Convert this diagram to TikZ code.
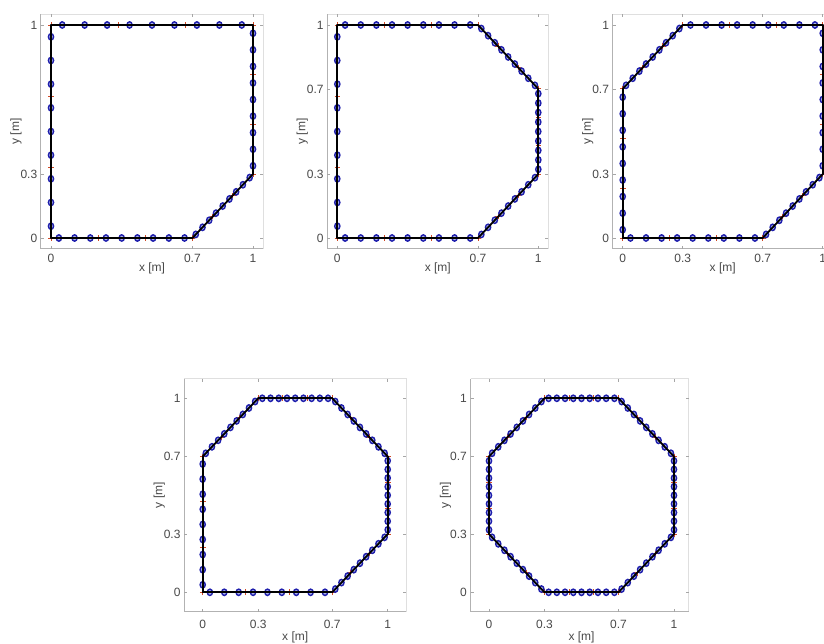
\documentclass[tikz,border=0pt]{standalone}
\usepackage{fontspec}
\setmainfont{Liberation Sans}
\definecolor{mBlue}{RGB}{30,30,172}
\definecolor{mFill}{RGB}{175,182,232}
\definecolor{mRed}{RGB}{208,72,36}
\definecolor{axText}{RGB}{72,72,72}

\begin{document}
\begin{tikzpicture}[x=1pt, y=1pt,
  lbl/.style={text=axText, font=\fontsize{12}{14}\selectfont, inner sep=0pt},
  frameA/.style={gray!60, line width=0.8pt},
  frameB/.style={gray!25, line width=0.8pt},
  tck/.style={gray!70, line width=0.6pt},
  wall/.style={black, line width=1.8pt, line cap=round, line join=round},
  knot/.style={mBlue, fill=mFill, line width=1.4pt},
  cross/.style={mRed, line width=0.8pt}]
  \useasboundingbox (0,0) rectangle (824,644);
  \foreach \ox/\oy/\sx/\sy/\lo/\xhi/\yhi/\gap/\xt/\yt/\segs in {
    51/406/202/213/-0.05/1.05/1.05/10/{0,0.7,1}/{0,0.3,1}/{0/0/0.7/0, 0.7/0/1/0.3, 1/0.3/1/1, 1/1/0/1, 0/1/0/0},
    337.3/406/201/213/-0.05/1.05/1.05/10/{0,0.7,1}/{0,0.3,0.7,1}/{0/0/0.7/0, 0.7/0/1/0.3, 1/0.3/1/0.7, 1/0.7/0.7/1, 0.7/1/0/1, 0/1/0/0},
    622.7/406/200/213/-0.05/1.06/1.05/10/{0,0.3,0.7,1}/{0,0.3,0.7,1}/{0/0/0.7/0, 0.7/0/1/0.3, 1/0.3/1/1, 1/1/0.3/1, 0.3/1/0/0.7, 0/0.7/0/0},
    202.7/51.7/185/194/-0.1/1.1/1.1/13/{0,0.3,0.7,1}/{0,0.3,0.7,1}/{0/0/0.7/0, 0.7/0/1/0.3, 1/0.3/1/0.7, 1/0.7/0.7/1, 0.7/1/0.3/1, 0.3/1/0/0.7, 0/0.7/0/0},
    489/51.7/185/194/-0.1/1.08/1.1/13/{0,0.3,0.7,1}/{0,0.3,0.7,1}/{0.3/0/0.7/0, 0.7/0/1/0.3, 1/0.3/1/0.7, 1/0.7/0.7/1, 0.7/1/0.3/1, 0.3/1/0/0.7, 0/0.7/0/0.3, 0/0.3/0.3/0}} {
    \begin{scope}[shift={(\ox,\oy)}, x=\sx pt, y=\sy pt]
      \draw[frameB] (\lo,\yhi) -- (\xhi,\yhi) -- (\xhi,\lo);
      \draw[frameA] (\lo,\yhi) -- (\lo,\lo) -- (\xhi,\lo);
      \foreach \v in \xt {
        \draw[tck] (\v,\lo) -- ++(0pt,3pt) (\v,\yhi) -- ++(0pt,-3pt);
        \node[lbl] (xtick) at ([yshift=-\gap pt]\v,\lo) {\v};
      }
      \foreach \v in \yt {
        \draw[tck] (\lo,\v) -- ++(3pt,0pt) (\xhi,\v) -- ++(-3pt,0pt);
        \node[lbl, anchor=east] (ytick) at ([xshift=-3.5pt]\lo,\v) {\v};
      }
      \node[lbl] (xlab) at ([yshift=-2*\gap pt]0.5,\lo) {x [m]};
      \node[lbl, rotate=90] (ylab) at ([xshift=-25pt]\lo,0.5) {y [m]};
      \foreach \xa/\ya/\xb/\yb in \segs
        \foreach \t in {0,1,2}
          \draw[cross] ({\xa+(\xb-\xa)*\t/3},{\ya+(\yb-\ya)*\t/3}) +(-2.8pt,0pt) -- +(2.8pt,0pt) +(0pt,-2.8pt) -- +(0pt,2.8pt);
      \foreach \xa/\ya/\xb/\yb in \segs
        \foreach \k in {1,...,9}
          \draw[knot] ({\xa+(\xb-\xa)*(\k-0.5)/9},{\ya+(\yb-\ya)*(\k-0.5)/9}) ellipse [x radius=2.6pt, y radius=3.2pt];
      \foreach \xa/\ya/\xb/\yb in \segs
        \draw[wall] (\xa,\ya) -- (\xb,\yb);
    \end{scope}
  }
\end{tikzpicture}
\end{document}
